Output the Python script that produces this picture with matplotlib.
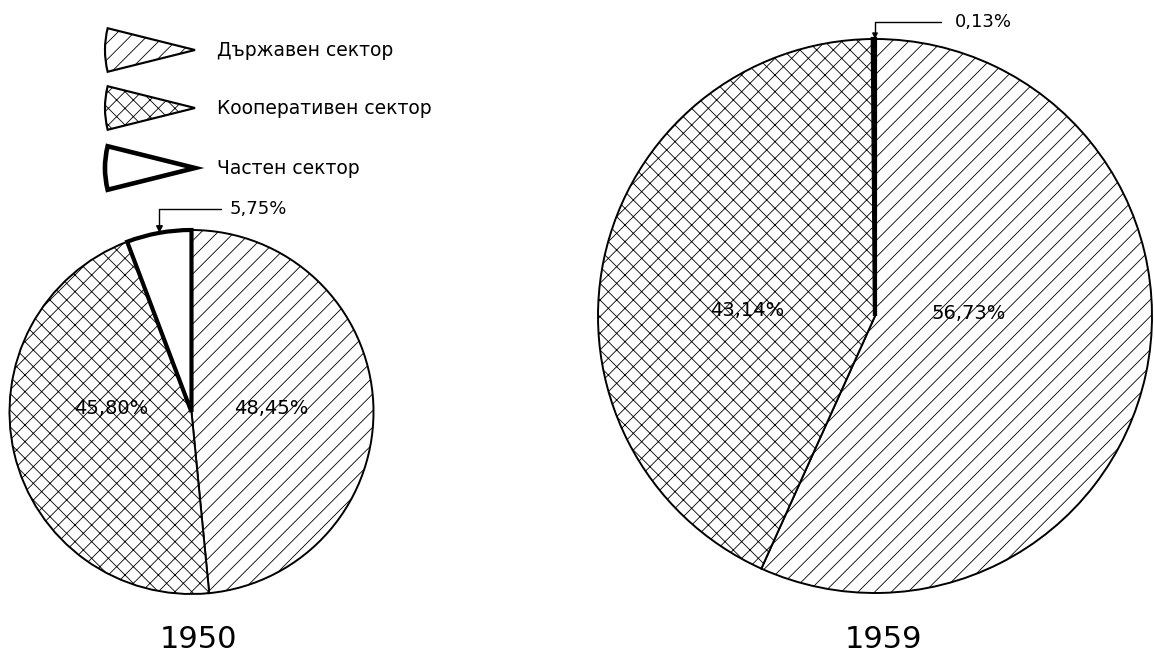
import matplotlib.pyplot as plt
from matplotlib.patches import Wedge

# ---------------- data ----------------
SECTORS = ["Държавен сектор", "Кооперативен сектор", "Частен сектор"]
YEARS = ["1950", "1959"]
SHARES_1950 = [48.45, 45.80, 5.75]
SHARES_1959 = [56.73, 43.14, 0.13]
LABELS_1950 = ["48,45%", "45,80%", "5,75%"]
LABELS_1959 = ["56,73%", "43,14%", "0,13%"]

HATCHES = ["//", "xx", ""]
EDGE_LW = [1.4, 1.4, 3.0]

plt.rcParams.update({
    "font.family": "DejaVu Sans",
    "hatch.color": "black",
    "hatch.linewidth": 0.6,
})

W, H = 1154, 657
fig = plt.figure(figsize=(W / 100, H / 100), dpi=100)
LIM = 1.01


def pie_axes(cx, cy, r):
    # axes placed so the unit pie lands at pixel centre (cx, cy), radius r
    side = 2 * LIM * r
    return fig.add_axes([(cx - LIM * r) / W, (H - cy - LIM * r) / H, side / W, side / H])


def draw_pie(ax, shares):
    wedges, _ = ax.pie(shares, startangle=90, counterclock=False,
                       colors=["white"] * 3, radius=1.0)
    for w, h, lw in zip(wedges, HATCHES, EDGE_LW):
        w.set_hatch(h)
        w.set_edgecolor("black")
        w.set_linewidth(lw)
        w.set_clip_on(False)
    wedges[2].set_zorder(5)
    ax.set_xlim(-LIM, LIM)
    ax.set_ylim(-LIM, LIM)
    ax.set_aspect("equal")
    ax.axis("off")
    return wedges


# ---------------- 1950 ----------------
ax1 = pie_axes(191.5, 412, 182)
draw_pie(ax1, SHARES_1950)
ax1.text(0.44, 0.02, LABELS_1950[0], ha="center", va="center", fontsize=14)
ax1.text(-0.44, 0.02, LABELS_1950[1], ha="center", va="center", fontsize=14)
ax1.annotate(LABELS_1950[2], xy=(-0.176, 0.984), xytext=(0.21, 1.115),
             ha="left", va="center", fontsize=13, annotation_clip=False,
             arrowprops=dict(arrowstyle="-|>", color="black", lw=1.0,
                             shrinkA=4, shrinkB=0, mutation_scale=10,
                             connectionstyle="angle,angleA=0,angleB=90,rad=0"))
fig.text(198 / W, 1 - 640 / H, YEARS[0], ha="center", va="center", fontsize=22)

# ---------------- 1959 ----------------
ax2 = pie_axes(875, 316, 277)
draw_pie(ax2, SHARES_1959)
ax2.text(0.34, 0.01, LABELS_1959[0], ha="center", va="center", fontsize=14)
ax2.text(-0.46, 0.02, LABELS_1959[1], ha="center", va="center", fontsize=14)
ax2.annotate(LABELS_1959[2], xy=(0.0, 1.0), xytext=(0.29, 1.06),
             ha="left", va="center", fontsize=13, annotation_clip=False,
             arrowprops=dict(arrowstyle="-|>", color="black", lw=1.0,
                             shrinkA=8, shrinkB=0, mutation_scale=8,
                             connectionstyle="angle,angleA=0,angleB=90,rad=0"))
fig.text(883 / W, 1 - 640 / H, YEARS[1], ha="center", va="center", fontsize=22)

# ---------------- legend (wedge glyphs) ----------------
lax = fig.add_axes([0, 0, 1, 1], zorder=-1)
lax.set_xlim(0, W)
lax.set_ylim(H, 0)
lax.axis("off")
rows_y = [50, 108, 168]
for name, h, lw, y in zip(SECTORS, HATCHES, EDGE_LW, rows_y):
    lax.add_patch(Wedge((195, y), 90, 180 - 14, 180 + 14, facecolor="white",
                        edgecolor="black", hatch=h, lw=lw * 1.1))
    lax.text(217, y, name, ha="left", va="center", fontsize=13.5)

fig.savefig("out.png", dpi=100)
